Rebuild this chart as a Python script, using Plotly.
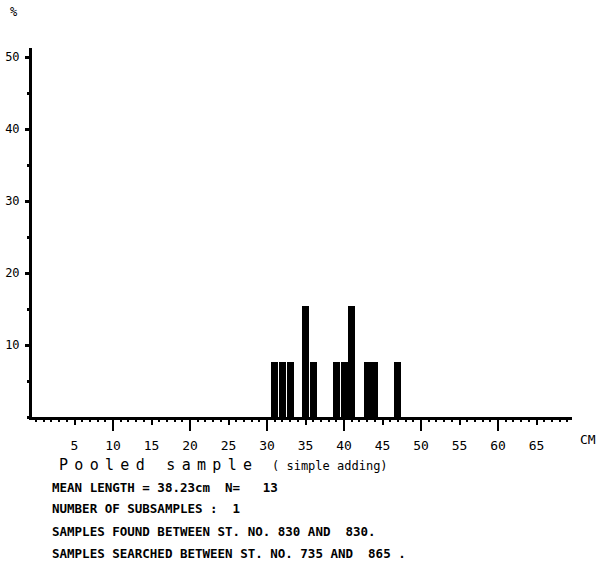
import plotly.graph_objects as go

# ---- data ----
lengths_cm = [31, 32, 33, 35, 36, 39, 40, 41, 43, 44, 47]
counts = [1, 1, 1, 2, 1, 1, 1, 2, 1, 1, 1]
x_tick_vals = [5, 10, 15, 20, 25, 30, 35, 40, 45, 50, 55, 60, 65]
x_tick_text = [str(v) for v in x_tick_vals]
x_long_ticks = [10, 20, 30, 40, 50, 60]
y_tick_vals = [10, 20, 30, 40, 50]
y_tick_text = [str(v) for v in y_tick_vals]

n_total = sum(counts)
percent = [c / n_total * 100 for c in counts]

MONO = "DejaVu Sans Mono"

fig = go.Figure()
fig.add_trace(go.Bar(x=lengths_cm, y=percent, width=0.9,
                     marker=dict(color="black", line=dict(width=0)),
                     showlegend=False, hoverinfo="skip"))
fig.add_trace(go.Scatter(x=[], y=[], xaxis="x2", showlegend=False))

X_RANGE = [-0.52, 69.6]

fig.update_layout(
    width=599, height=567,
    margin=dict(l=32, r=27, t=48, b=150),
    paper_bgcolor="white", plot_bgcolor="white",
    font=dict(family=MONO, size=13, color="black"),
    bargap=0,
    xaxis=dict(range=X_RANGE, showgrid=False, zeroline=False,
               automargin=False,
               showline=True, linewidth=3, linecolor="black",
               tickmode="array", tickvals=x_tick_vals, ticktext=x_tick_text,
               ticks="outside", ticklen=5, tickwidth=2, tickcolor="black",
               ticklabelstandoff=9,
               minor=dict(dtick=1, tick0=0, ticks="outside", ticklen=2,
                          tickwidth=2, tickcolor="black", showgrid=False),
               tickfont=dict(family=MONO, size=13)),
    xaxis2=dict(range=X_RANGE, overlaying="x", anchor="y", side="bottom",
                automargin=False,
                showgrid=False, zeroline=False, showline=False,
                tickmode="array", tickvals=x_long_ticks, showticklabels=False,
                ticks="outside", ticklen=13, tickwidth=2, tickcolor="black"),
    yaxis=dict(range=[0, 51.25], showgrid=False, zeroline=False,
               automargin=False,
               showline=True, linewidth=3, linecolor="black",
               tickmode="array", tickvals=y_tick_vals, ticktext=y_tick_text,
               ticks="outside", ticklen=4, tickwidth=3, tickcolor="black",
               ticklabelstandoff=3,
               minor=dict(dtick=5, tick0=0, ticks="outside", ticklen=2,
                          tickwidth=3, tickcolor="black", showgrid=False),
               tickfont=dict(family=MONO, size=12)),
)

PW = 599 - 32 - 27  # plot width in px, for paper-coordinate text placement


def px_x(px):
    return (px - 32) / PW


def note(text, x, y, size=12.5, bold=True, **kw):
    fig.add_annotation(text=("<b>%s</b>" % text) if bold else text,
                       xref="paper", yref="paper", x=x, y=y,
                       xanchor="left", yanchor="middle", showarrow=False,
                       font=dict(family=MONO, size=size, color="black"), **kw)

# axis unit labels
fig.add_annotation(text="%", xref="paper", yref="paper", x=px_x(14), y=1.097,
                   xanchor="center", yanchor="middle", showarrow=False,
                   font=dict(family=MONO, size=12, color="black"))
fig.add_annotation(text="CM", xref="paper", yref="paper", x=px_x(588), y=-0.062,
                   xanchor="center", yanchor="middle", showarrow=False,
                   font=dict(family=MONO, size=13, color="black"))

note('<span style="letter-spacing:6.3px">Pooled sample</span>', px_x(57), -0.130,
     size=15, bold=False)
note("( simple adding)", px_x(270), -0.132, size=12, bold=False)
note("MEAN LENGTH = 38.23cm  N=   13", px_x(50), -0.190)
note("NUMBER OF SUBSAMPLES :  1", px_x(50), -0.249)
note("SAMPLES FOUND BETWEEN ST. NO. 830 AND  830.", px_x(50), -0.309)
note("SAMPLES SEARCHED BETWEEN ST. NO. 735 AND  865 .", px_x(50), -0.3686)

fig.write_html("out.html",
               config={"displayModeBar": False},
               post_script="document.body.style.margin='0px';"
                           "document.body.style.overflow='hidden';")
